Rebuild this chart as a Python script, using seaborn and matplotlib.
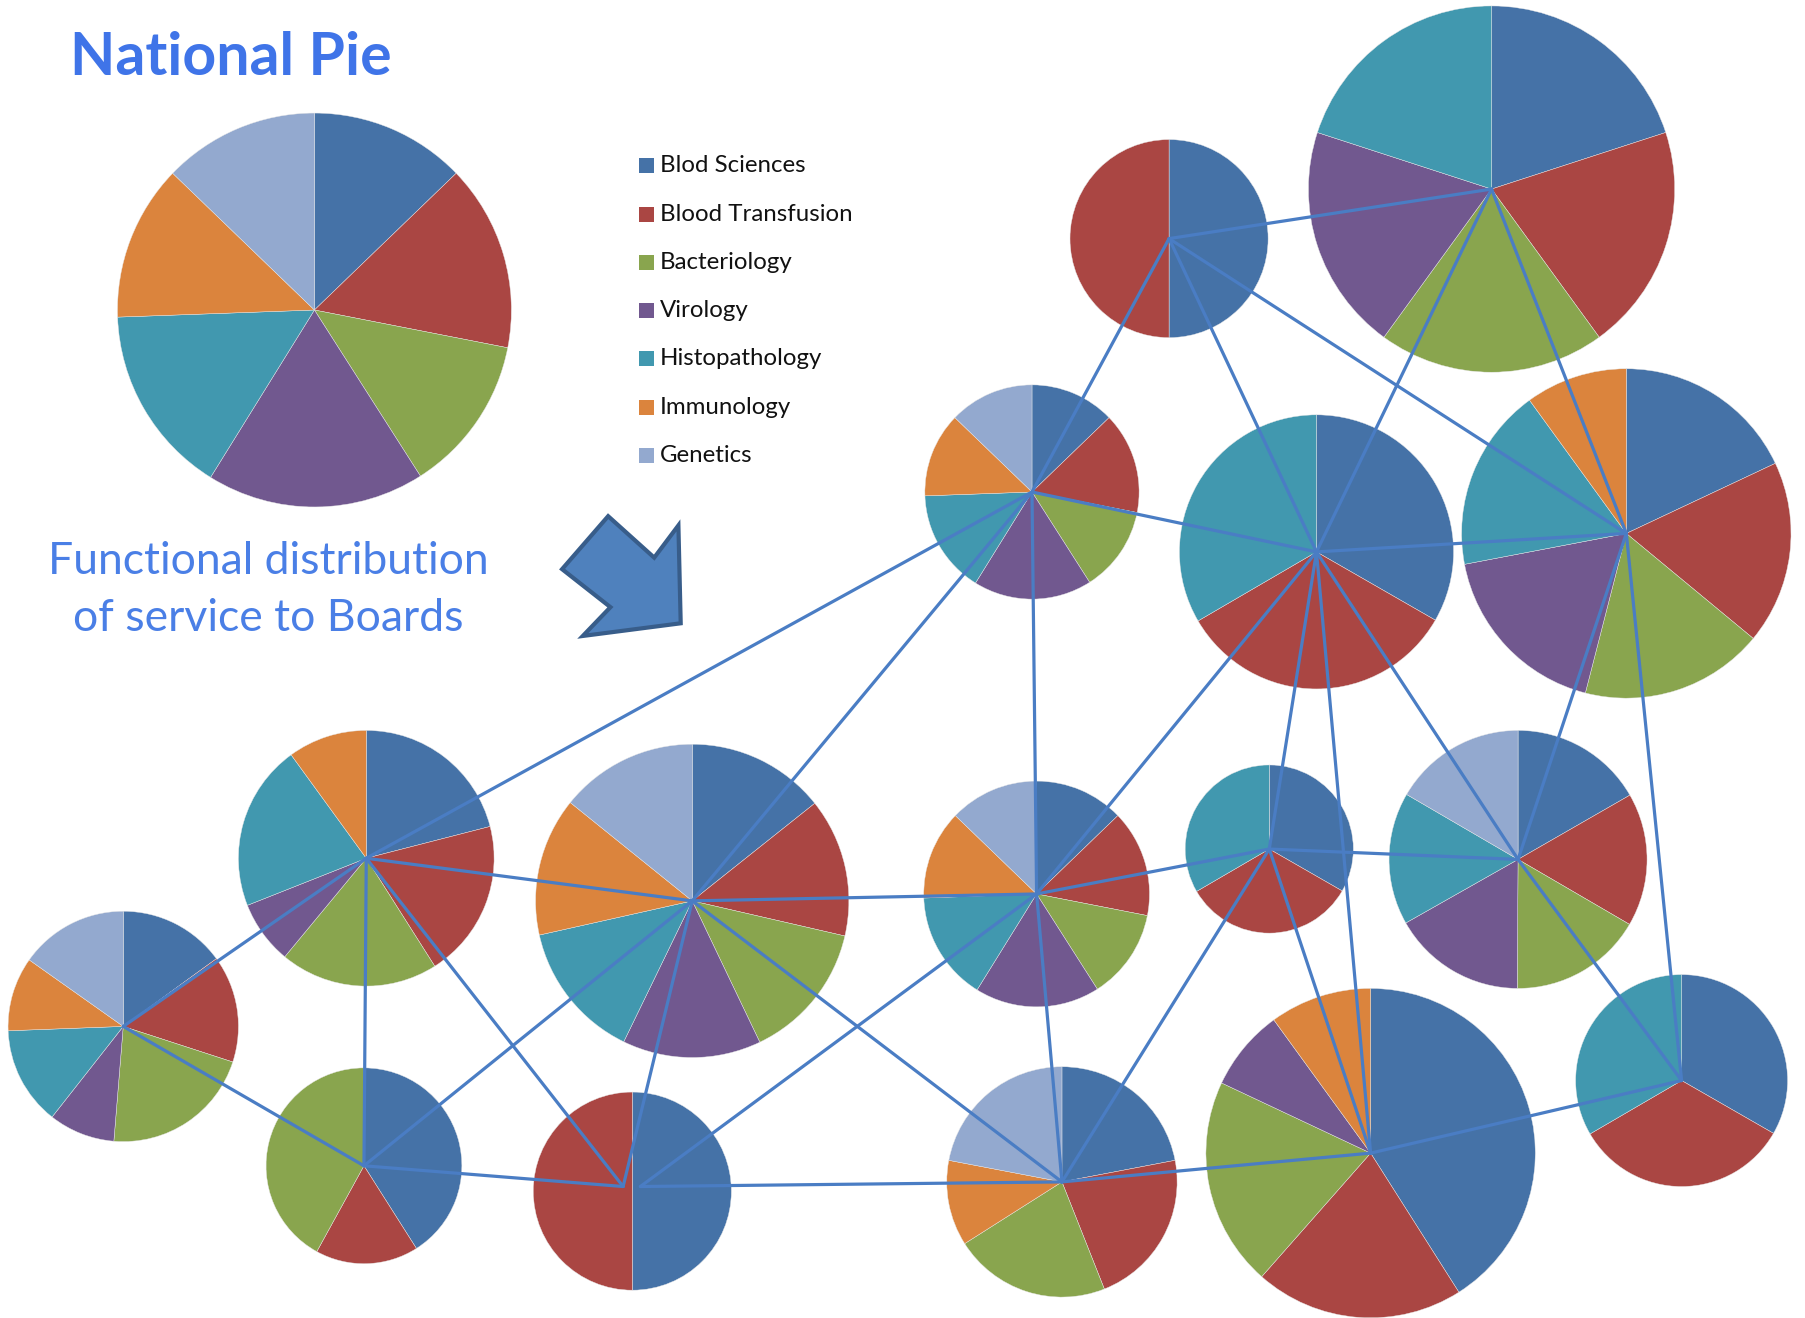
import matplotlib
matplotlib.use("Agg")
import matplotlib.pyplot as plt
from matplotlib.patches import Polygon, Rectangle
import pandas as pd
import seaborn as sns

# ---- data -------------------------------------------------------------
categories = ["Blod Sciences", "Blood Transfusion", "Bacteriology", "Virology",
              "Histopathology", "Immunology", "Genetics"]

# share of each function (%), same order as categories
national_share = [12.8, 15.3, 12.9, 17.9, 15.6, 12.8, 12.8]
board_a = [20, 20, 20, 20, 20, 0, 0]
board_b = [50, 50, 0, 0, 0, 0, 0]
board_c = [12.8, 15.3, 12.9, 17.9, 15.6, 12.8, 12.8]
board_d = [33.3, 33.3, 0, 0, 33.4, 0, 0]
board_e = [18, 18, 18, 18, 18, 10, 0]
board_f = [21, 20, 20, 8, 21, 10, 0]
board_g = [14.3, 14.3, 14.3, 14.3, 14.3, 14.3, 14.2]
board_h = [15, 15, 21.3, 9.3, 13.8, 10.4, 15.2]
board_i = [41, 17, 42, 0, 0, 0, 0]
board_j = [50, 50, 0, 0, 0, 0, 0]
board_k = [12.8, 15.3, 12.9, 17.9, 15.6, 12.8, 12.8]
board_l = [33.3, 33.3, 0, 0, 33.4, 0, 0]
board_m = [16.7, 16.7, 16.7, 16.7, 16.6, 0, 16.6]
board_n = [22, 22, 22, 0, 0, 12, 22]
board_o = [41, 20.5, 20.5, 8, 0, 10, 0]
board_p = [33.3, 33.3, 0, 0, 33.4, 0, 0]

board_shares = {"A": board_a, "B": board_b, "C": board_c, "D": board_d,
                "E": board_e, "F": board_f, "G": board_g, "H": board_h,
                "I": board_i, "J": board_j, "K": board_k, "L": board_l,
                "M": board_m, "N": board_n, "O": board_o, "P": board_p}

# links between boards
links = [("B", "A"), ("B", "C"), ("B", "D"), ("B", "E"), ("A", "D"), ("A", "E"),
         ("C", "F"), ("C", "G"), ("C", "K"), ("C", "D"), ("D", "E"), ("D", "K"),
         ("D", "L"), ("D", "O"), ("D", "M"), ("E", "M"), ("E", "P"), ("F", "H"),
         ("F", "G"), ("F", "I"), ("F", "J"), ("H", "I"), ("I", "J"), ("I", "G"),
         ("G", "J"), ("G", "K"), ("G", "N"), ("J", "N"), ("J", "K"), ("K", "L"),
         ("K", "N"), ("L", "M"), ("L", "O"), ("L", "N"), ("M", "P"), ("O", "P"),
         ("O", "N")]

# ---- layout (canvas units, y measured from the top) -------------------
W, H = 1568, 1144
board_layout = {  # centre x, centre y, radius
    "A": (1295, 164, 159), "B": (1015, 207, 86), "C": (896, 427, 93),
    "D": (1143, 479, 119), "E": (1412, 463, 143), "F": (318, 745, 111),
    "G": (601, 782, 136), "H": (107, 891, 100), "I": (316, 1012, 85),
    "J": (549, 1034, 86), "K": (900, 776, 98), "L": (1102, 737, 73),
    "M": (1318, 746, 112), "N": (922, 1026, 100), "O": (1190, 1001, 143),
    "P": (1460, 938, 92),
}
# where links meet board J: incoming from the west, outgoing to the east
link_anchor = {("J", "west"): (541, 1030), ("J", "east"): (556, 1030)}
national_layout = (273, 269, 171)

sns.set_theme(style="white")
plt.rcParams["font.family"] = ["Lato", "DejaVu Sans"]
palette = sns.color_palette(["#4572A7", "#AA4643", "#89A54E", "#71588F",
                             "#4198AF", "#DB843D", "#93A9CF"])
link_color = "#4A7DC4"

fig = plt.figure(figsize=(18.06, 13.18), dpi=100)
fig.patch.set_facecolor("white")
ax = fig.add_axes([0, 0, 1, 1])


def draw_pie(shares, x, y, r):
    vals = [v for v in shares if v > 0]
    cols = [c for v, c in zip(shares, palette) if v > 0]
    ax.pie(vals, colors=cols, startangle=90, counterclock=False,
           center=(x, H - y), radius=r, frame=True,
           wedgeprops=dict(linewidth=0.3, edgecolor="#e8e8e8"))


draw_pie(national_share, *national_layout)
for key, shares in board_shares.items():
    draw_pie(shares, *board_layout[key])


def endpoint(node, other):
    x, y, _ = board_layout[node]
    ox = board_layout[other][0]
    side = "east" if ox > x + 100 or (other in ("K", "N")) else "west"
    if (node, side) in link_anchor:
        return link_anchor[(node, side)]
    return x, y


# links drawn on top of the pies
rows = []
for i, (a, b) in enumerate(links):
    for node, other in ((a, b), (b, a)):
        x, y = endpoint(node, other)
        rows.append({"link": i, "x": x, "y": H - y})
link_df = pd.DataFrame(rows)
sns.lineplot(data=link_df, x="x", y="y", units="link", estimator=None,
             sort=False, color=link_color, linewidth=2.3, ax=ax, legend=False,
             zorder=5)

# legend
sq = 13
for i, (name, col) in enumerate(zip(categories, palette)):
    yy = H - (143.9 + i * 41.9)
    ax.add_patch(Rectangle((555, yy - sq / 2), sq, sq, facecolor=col,
                           edgecolor="none", zorder=6))
    ax.text(573, yy, name, fontsize=17.3, color="#111111", ha="left",
            va="center", zorder=6)

# titles
ax.text(200, H - 50, "National Pie", fontsize=42.5, fontweight="bold",
        color="#3F74E8", ha="center", va="center")
ax.text(233, H - 487, "Functional distribution", fontsize=32,
        color="#4A7FE6", ha="center", va="center")
ax.text(233, H - 537, "of service to Boards", fontsize=32,
        color="#4A7FE6", ha="center", va="center")

# block arrow pointing to the boards
arrow_pts = [(528, 448), (568, 484), (589, 456), (591, 541), (506, 552),
             (530, 527), (488, 494)]
ax.add_patch(Polygon([(px, H - py) for px, py in arrow_pts], closed=True,
                     facecolor="#4F81BD", edgecolor="#385D8A", linewidth=3,
                     joinstyle="miter", zorder=6))

ax.set_xlim(0, W)
ax.set_ylim(0, H)
ax.set_aspect("equal")
ax.axis("off")

fig.savefig("out.png", dpi=100, facecolor="white")
